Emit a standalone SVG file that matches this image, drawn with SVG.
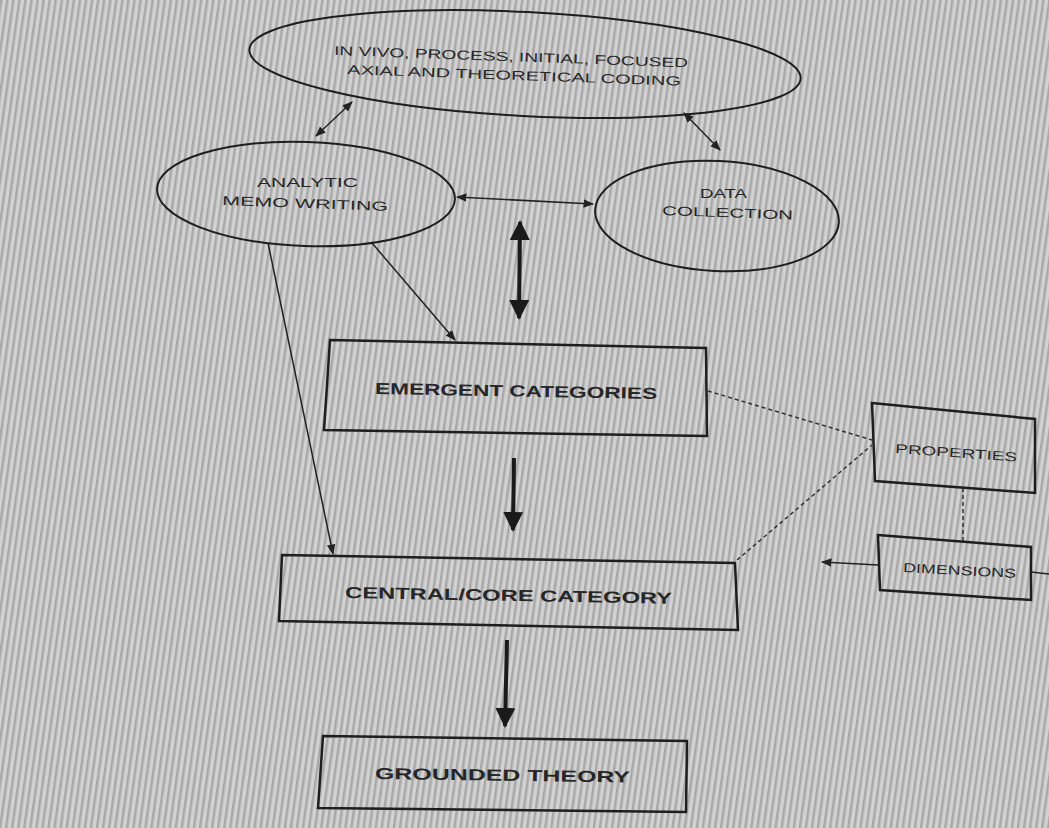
<svg xmlns="http://www.w3.org/2000/svg" width="1049" height="828" viewBox="0 0 1049 828">
<defs>
<pattern id="stripes" width="6" height="6" patternUnits="userSpaceOnUse" patternTransform="rotate(8)">
<rect width="6" height="6" fill="#d2d2d2"/>
<rect width="2.5" height="6" fill="#a8a8a8"/>
</pattern>
<marker id="sm" viewBox="0 0 10 10" refX="9" refY="5" markerWidth="7" markerHeight="7" orient="auto-start-reverse">
<path d="M0,1 L10,5 L0,9 z" fill="#222"/>
</marker>
<marker id="big" viewBox="0 0 10 10" refX="9" refY="5" markerWidth="5" markerHeight="5" orient="auto-start-reverse">
<path d="M0,0 L10,5 L0,10 z" fill="#1a1a1a"/>
</marker>
</defs>
<style>
.shape{fill:none;stroke:#1e1e1e;stroke-width:2}
.box{fill:none;stroke:#1e1e1e;stroke-width:2.5}
.thin{stroke:#222;stroke-width:1.5;fill:none}
.thick{stroke:#1a1a1a;stroke-width:4;fill:none}
.dash{stroke:#333;stroke-width:1.5;stroke-dasharray:4 3;fill:none}
.t{font-family:"Liberation Sans",Arial,sans-serif;font-size:16px;font-weight:bold;fill:#262626}
.ts{font-family:"Liberation Sans",Arial,sans-serif;font-size:13px;fill:#262626}
</style>
<rect width="1049" height="828" fill="url(#stripes)"/>

<g id="connectors">
<line class="thin" x1="352" y1="102" x2="316" y2="136" marker-start="url(#sm)" marker-end="url(#sm)"/>
<line class="thin" x1="684" y1="113" x2="720" y2="150" marker-start="url(#sm)" marker-end="url(#sm)"/>
<line class="thin" x1="457" y1="197" x2="593" y2="204" marker-start="url(#sm)" marker-end="url(#sm)"/>
<line class="thick" x1="520" y1="222" x2="519" y2="318" marker-start="url(#big)" marker-end="url(#big)"/>
<line class="thin" x1="372" y1="243" x2="455" y2="340" marker-end="url(#sm)"/>
<line class="thin" x1="268" y1="243" x2="333" y2="554" marker-end="url(#sm)"/>
<line class="thick" x1="514" y1="458" x2="513" y2="530" marker-end="url(#big)"/>
<line class="thick" x1="507" y1="640" x2="505" y2="726" marker-end="url(#big)"/>
<line class="dash" x1="708" y1="391" x2="872" y2="440"/>
<line class="dash" x1="737" y1="560" x2="872" y2="445"/>
<line class="dash" x1="963" y1="488" x2="963" y2="541"/>
<line class="thin" x1="878" y1="565" x2="822" y2="562" marker-end="url(#sm)"/>
<line class="thin" x1="1031" y1="572" x2="1049" y2="574"/>
</g>

<g id="node-coding">
<ellipse class="shape" cx="525" cy="64" rx="276" ry="52" transform="rotate(3 525 64)"/>
<text class="ts" x="334" y="55" textLength="354" lengthAdjust="spacingAndGlyphs" transform="rotate(2 334 55)">IN VIVO, PROCESS, INITIAL, FOCUSED</text>
<text class="ts" x="347" y="74" textLength="334" lengthAdjust="spacingAndGlyphs" transform="rotate(2 347 74)">AXIAL AND THEORETICAL CODING</text>
</g>

<g id="node-memo">
<ellipse class="shape" cx="306" cy="194" rx="149" ry="52" transform="rotate(2 306 194)"/>
<text class="ts" x="257" y="187" textLength="101" lengthAdjust="spacingAndGlyphs">ANALYTIC</text>
<text class="ts" x="222" y="205" textLength="166" lengthAdjust="spacingAndGlyphs" transform="rotate(2 222 205)">MEMO WRITING</text>
</g>

<g id="node-data">
<ellipse class="shape" cx="717" cy="216" rx="122" ry="55" transform="rotate(3 717 216)"/>
<text class="ts" x="700" y="198" textLength="47" lengthAdjust="spacingAndGlyphs">DATA</text>
<text class="ts" x="662" y="215" textLength="131" lengthAdjust="spacingAndGlyphs" transform="rotate(2 662 215)">COLLECTION</text>
</g>

<g id="node-emergent">
<polygon class="box" points="330,340 706,348 707,436 324,430"/>
<text class="t" x="375" y="394" textLength="282" lengthAdjust="spacingAndGlyphs" transform="rotate(1 375 394)">EMERGENT CATEGORIES</text>
</g>

<g id="node-properties">
<polygon class="box" points="872,403 1035,419 1035,493 875,481"/>
<text class="ts" x="895" y="453" textLength="122" lengthAdjust="spacingAndGlyphs" transform="rotate(4 895 453)">PROPERTIES</text>
</g>

<g id="node-dimensions">
<polygon class="box" points="878,535 1031,547 1031,600 880,590"/>
<text class="ts" x="903" y="572" textLength="113" lengthAdjust="spacingAndGlyphs" transform="rotate(3 903 572)">DIMENSIONS</text>
</g>

<g id="node-central">
<polygon class="box" points="282,555 735,563 738,630 279,621"/>
<text class="t" x="345" y="598" textLength="327" lengthAdjust="spacingAndGlyphs" transform="rotate(1 345 598)">CENTRAL/CORE CATEGORY</text>
</g>

<g id="node-grounded">
<polygon class="box" points="323,736 687,741 686,812 318,808"/>
<text class="t" x="375" y="779" textLength="255" lengthAdjust="spacingAndGlyphs" transform="rotate(0.8 375 779)">GROUNDED THEORY</text>
</g>
</svg>
